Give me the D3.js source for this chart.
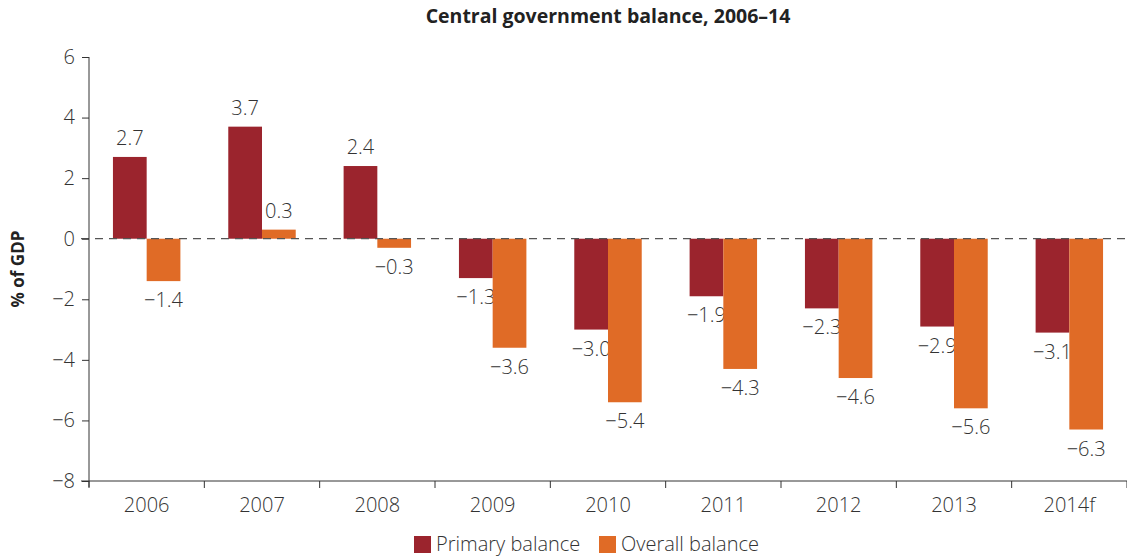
<!DOCTYPE html>
<html><head><meta charset="utf-8">
<script src="https://cdn.jsdelivr.net/npm/d3@7"></script>
<style>
body{margin:0;background:#fff;}
text{font-family:"Open Sans","Noto Sans",sans-serif;fill:#333;font-weight:300;}
</style></head>
<body><svg id="c" width="1127" height="559"></svg>
<script>
const categories = ["2006","2007","2008","2009","2010","2011","2012","2013","2014f"];
const primaryBalance = [2.7,3.7,2.4,-1.3,-3.0,-1.9,-2.3,-2.9,-3.1];
const overallBalance = [-1.4,0.3,-0.3,-3.6,-5.4,-4.3,-4.6,-5.6,-6.3];
const seriesNames = ["Primary balance","Overall balance"];
const yTicks = [-8,-6,-4,-2,0,2,4,6];
const colors = ["#9b242d","#e06b26"];
const title = "Central government balance, 2006–14";
const yLabel = "% of GDP";

const svg = d3.select("#c");
const L=89, R=1127, T=57, B=481;
const FS="20px";
const x = d3.scaleBand().domain(categories).range([L,R]).paddingInner(0).paddingOuter(0);
const y = d3.scaleLinear().domain([-8,6]).range([B,T]);
const x1 = d3.scaleBand().domain([0,1]).range([0,x.bandwidth()]).paddingInner(0).paddingOuter(0.71);
const fmt = v => (v<0?"\u2212":"") + Math.abs(v).toFixed(1);

svg.append("text").attr("x",(L+R)/2).attr("y",23).attr("text-anchor","middle")
  .style("font-weight","700").style("font-size","19.5px").style("fill","#222").text(title);

// bars
const series=[primaryBalance,overallBalance];
series.forEach((vals,si)=>{
  const g=svg.append("g");
  vals.forEach((v,i)=>{
    const bx=x(categories[i])+x1(si);
    g.append("rect").attr("x",bx).attr("width",x1.bandwidth())
      .attr("y",y(Math.max(0,v))).attr("height",Math.abs(y(v)-y(0))).attr("fill",colors[si]);
    const ly = v>=0 ? y(v)-12 : y(v)+26;
    g.append("text").attr("x",bx+x1.bandwidth()/2).attr("y",ly).attr("text-anchor","middle")
      .style("font-size",FS).text(fmt(v));
  });
});

// zero dashed line
svg.append("line").attr("x1",L-8).attr("x2",R).attr("y1",y(0)).attr("y2",y(0))
  .attr("stroke","#555").attr("stroke-width",1.3).attr("stroke-dasharray","8,6");

// y axis
const ya=svg.append("g").attr("transform",`translate(${L},0)`)
  .call(d3.axisLeft(y).tickValues(yTicks).tickSize(7).tickPadding(7).tickFormat(d=>d<0?"\u2212"+Math.abs(d):d));
ya.select(".domain").attr("stroke","#333").attr("d",`M-0,${T}V${B+6}`);
ya.selectAll(".tick line").attr("stroke","#333");
ya.selectAll("text").style("font-size",FS).style("fill","#333").style("font-family","'Open Sans',sans-serif").style("font-weight","300");

// x axis
const xa=svg.append("g").attr("transform",`translate(0,${B})`);
xa.append("line").attr("x1",L-8).attr("x2",R).attr("stroke","#333");
categories.concat([null]).forEach((c,i)=>{
  const px = i<categories.length ? x(c) : R;
  xa.append("line").attr("x1",px).attr("x2",px).attr("y1",0).attr("y2",7).attr("stroke","#333");
});
categories.forEach(c=>{
  xa.append("text").attr("x",x(c)+x.bandwidth()/2).attr("y",31).attr("text-anchor","middle")
    .style("font-size",FS).text(c);
});

// y label
svg.append("text").attr("transform",`translate(24,${(T+B)/2}) rotate(-90)`).attr("text-anchor","middle")
  .style("font-weight","700").style("font-size","17px").style("fill","#222").text(yLabel);

// legend
const lg=svg.append("g");
const lx=[414,599];
seriesNames.forEach((n,i)=>{
  lg.append("rect").attr("x",lx[i]).attr("y",536).attr("width",17).attr("height",17).attr("fill",colors[i]);
  lg.append("text").attr("x",lx[i]+22).attr("y",551).style("font-size",FS).text(n);
});
</script></body></html>
